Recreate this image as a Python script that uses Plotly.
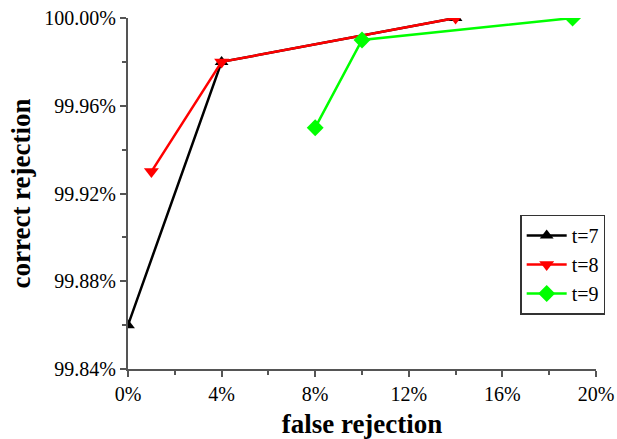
import plotly.graph_objects as go

x_t7 = [0, 4, 14]
y_t7 = [99.86, 99.98, 100.00]
x_t8 = [1, 4, 14]
y_t8 = [99.93, 99.98, 100.00]
x_t9 = [8, 10, 19]
y_t9 = [99.95, 99.99, 100.00]

fig = go.Figure()
fig.add_trace(go.Scatter(x=x_t7, y=y_t7, name="t=7", mode="lines+markers",
                         line=dict(color="black", width=2.5),
                         marker=dict(symbol="triangle-up", size=12, color="black")))
fig.add_trace(go.Scatter(x=x_t8, y=y_t8, name="t=8", mode="lines+markers",
                         line=dict(color="#ff0000", width=2.5),
                         marker=dict(symbol="triangle-down", size=13, color="#ff0000")))
fig.add_trace(go.Scatter(x=x_t9, y=y_t9, name="t=9", mode="lines+markers",
                         line=dict(color="#00ff00", width=2.5),
                         marker=dict(symbol="diamond", size=13, color="#00ff00")))

serif = "Liberation Serif, Times New Roman, serif"
tick_font = dict(family=serif, size=20, color="black")
title_font = dict(family=serif, size=27, color="black")
fig.update_layout(
    width=617, height=439,
    margin=dict(l=128, r=21, t=18, b=70),
    paper_bgcolor="white", plot_bgcolor="white",
    font=tick_font,
    showlegend=True,
    legend=dict(x=0.838, y=0.44, xanchor="left", yanchor="top",
                bordercolor="#333", borderwidth=1.5,
                font=dict(family=serif, size=20, color="black"),
                tracegroupgap=0, itemwidth=40),
    xaxis=dict(range=[0, 20], tick0=0, dtick=4, ticksuffix="%", automargin=False,
               showgrid=False, zeroline=False, showline=True, linecolor="#555", linewidth=2,
               ticks="outside", ticklen=6, tickcolor="#555", tickwidth=1.5,
               minor=dict(ticks="outside", dtick=2, ticklen=4, tickcolor="#555", tickwidth=1.5),
               tickfont=tick_font,
               title=dict(text="<b>false rejection</b>", standoff=10, font=title_font)),
    yaxis=dict(range=[99.84, 100.0], tick0=99.84, dtick=0.04, tickformat=".2f", ticksuffix="%",
               automargin=False,
               showgrid=False, zeroline=False, showline=True, linecolor="#555", linewidth=2,
               ticks="outside", ticklen=6, tickcolor="#555", tickwidth=1.5,
               minor=dict(ticks="outside", dtick=0.02, ticklen=4, tickcolor="#555", tickwidth=1.5),
               tickfont=tick_font,
               title=dict(text="<b>correct rejection</b>", standoff=6, font=title_font)),
)
fig.write_html("out.html", config={"displayModeBar": False})

# remove the default page margin so the figure sits at the window's corner
with open("out.html", encoding="utf-8") as f:
    html = f.read()
html = html.replace("<body>", '<body style="margin:0;padding:0;overflow:hidden">', 1)
with open("out.html", "w", encoding="utf-8") as f:
    f.write(html)
